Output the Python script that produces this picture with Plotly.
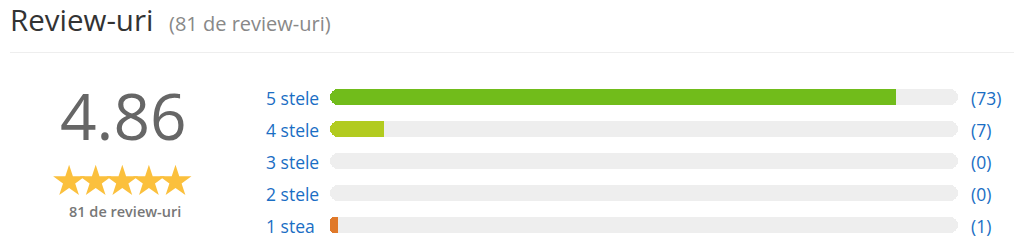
import plotly.graph_objects as go

# ---- data ----
title = "Review-uri"
subtitle = "(81 de review-uri)"
total_reviews = 81
average_rating = 4.86
star_levels = [5, 4, 3, 2, 1]
level_labels = ["5 stele", "4 stele", "3 stele", "2 stele", "1 stea"]
level_counts = [73, 7, 0, 0, 1]
level_colors = ["#71bc1b", "#b2cb1f", "#d6b92a", "#e59a2a", "#e0792a"]
count_labels = ["(%d)" % c for c in level_counts]
summary_label = "81 de review-uri"

W, H = 1014, 252
FONT = "Open Sans"
BLUE = "#1a6ec4"
X0_PX, X1_PX = 330, 958
RADIUS_PX = 8

def py(p):  # pixel y -> paper y
    return 1 - p / H

def px(p):
    return p / W

# y axis: level 5 at pixel 96.7, pitch 32 px
ROW0 = 96.7
y_top_val = 5 + ROW0 / 32
y_bot_val = 5 - (H - ROW0) / 32
bar_w = 16 / 32
r_units = RADIUS_PX * total_reviews / (X1_PX - X0_PX)

fig = go.Figure()

# track: pill (bars with a base are rounded at both ends)
fig.add_trace(go.Bar(
    y=star_levels, x=[total_reviews] * 5, base=[0] * 5,
    orientation="h", width=bar_w,
    marker=dict(color="#eeeeee", cornerradius=RADIUS_PX, line=dict(width=0)),
    hoverinfo="skip", showlegend=False))
# filled part: pill ...
fig.add_trace(go.Bar(
    y=star_levels, x=level_counts, base=[0] * 5,
    orientation="h", width=bar_w,
    marker=dict(color=level_colors, cornerradius=RADIUS_PX, line=dict(width=0)),
    hoverinfo="skip", showlegend=False))
# ... with a square right end
sq_base = [max(c / 2, c - r_units) for c in level_counts]
fig.add_trace(go.Bar(
    y=star_levels, x=[c - b for c, b in zip(level_counts, sq_base)], base=sq_base,
    orientation="h", width=bar_w,
    marker=dict(color=level_colors, line=dict(width=0)),
    hoverinfo="skip", showlegend=False))

# stars (pixel-space axes)
star_cx = 122.3
star_pitch = 26.6
n_stars = 5
fig.add_trace(go.Scatter(
    x=[star_cx + (i - 2) * star_pitch for i in range(n_stars)], y=[181.5] * n_stars,
    xaxis="x2", yaxis="y2", mode="markers",
    marker=dict(symbol="star", size=24, color="#fbc03d", line=dict(width=0)),
    hoverinfo="skip", showlegend=False))

annotations = []
for lvl, lab, cl in zip(star_levels, level_labels, count_labels):
    annotations.append(dict(x=px(263.5), y=lvl, xref="paper", yref="y", text=lab,
                            showarrow=False, xanchor="left", yanchor="middle", yshift=-1.5,
                            font=dict(family=FONT, size=17.5, color=BLUE)))
    annotations.append(dict(x=px(969), y=lvl, xref="paper", yref="y", text=cl,
                            showarrow=False, xanchor="left", yanchor="middle", yshift=-1.5,
                            font=dict(family=FONT, size=17.5, color=BLUE)))

annotations += [
    dict(x=px(9), y=py(19.5), xref="paper", yref="paper", xanchor="left", yanchor="middle",
         borderpad=0, text=title, showarrow=False,
         font=dict(family=FONT, size=29.5, color="#333333")),
    dict(x=px(167), y=py(23.5), xref="paper", yref="paper", xanchor="left", yanchor="middle",
         text=subtitle, showarrow=False, font=dict(family=FONT, size=20, color="#888888")),
    dict(x=px(123), y=py(116), xref="paper", yref="paper", xanchor="center", yanchor="middle",
         text="%.2f" % average_rating, showarrow=False,
         font=dict(family=FONT, size=64, color="#666666")),
    dict(x=px(124.5), y=py(211), xref="paper", yref="paper", xanchor="center", yanchor="middle",
         text=summary_label, showarrow=False,
         font=dict(family=FONT, size=14.5, color="#777777", weight=600)),
]

fig.update_layout(
    width=W, height=H, margin=dict(l=0, r=0, t=0, b=0),
    paper_bgcolor="white", plot_bgcolor="rgba(0,0,0,0)",
    barmode="overlay", bargap=0,
    xaxis=dict(domain=[px(X0_PX), px(X1_PX)], range=[0, total_reviews], visible=False, fixedrange=True),
    yaxis=dict(domain=[0, 1], range=[y_bot_val, y_top_val], visible=False, fixedrange=True),
    xaxis2=dict(domain=[0, 1], range=[0, W], visible=False, anchor="y2", fixedrange=True),
    yaxis2=dict(domain=[0, 1], range=[H, 0], visible=False, anchor="x2", fixedrange=True),
    annotations=annotations,
    shapes=[dict(type="line", xref="paper", yref="paper", x0=px(10), x1=1, y0=py(52.5), y1=py(52.5),
                 line=dict(color="#eeeeee", width=1))],
    showlegend=False,
)

fig.write_html("out.html", config={"displayModeBar": False})
